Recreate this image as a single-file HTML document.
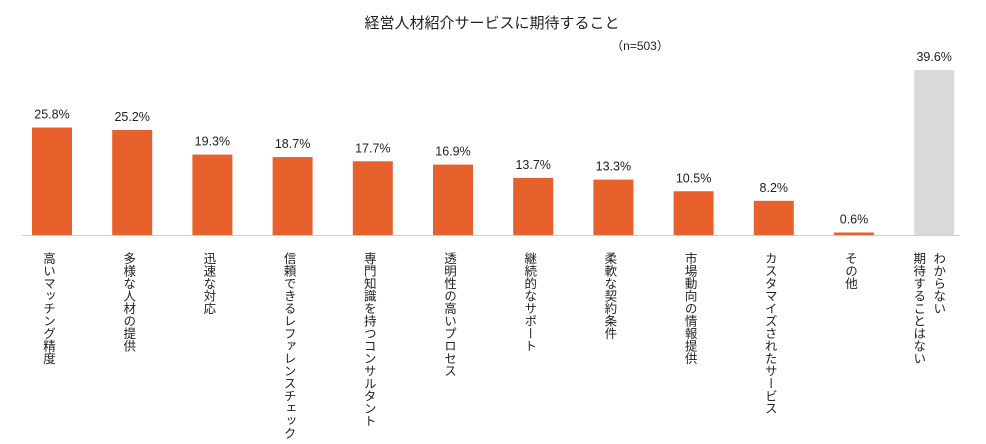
<!DOCTYPE html>
<html><head><meta charset="utf-8"><style>
body{margin:0;background:#fff;}
svg{display:block;font-family:"Liberation Sans","Noto Sans CJK JP",sans-serif;}
</style></head><body>
<svg id="chart" width="986" height="444" viewBox="0 0 986 444">
<text x="492" y="28" text-anchor="middle" font-size="15" fill="#222">経営人材紹介サービスに期待すること</text>
<text x="640" y="50" text-anchor="middle" font-size="12" fill="#222">（n=503）</text>
<line x1="22" y1="235.5" x2="960" y2="235.5" stroke="#d0d0d0" stroke-width="1"/>
<g id="bars"></g>
</svg>
<script>
const categories = ["高いマッチング精度","多様な人材の提供","迅速な対応","信頼できるレファレンスチェック","専門知識を持つコンサルタント","透明性の高いプロセス","継続的なサポート","柔軟な契約条件","市場動向の情報提供","カスタマイズされたサービス","その他","わからない\n期待することはない"];
const values = [25.8,25.2,19.3,18.7,17.7,16.9,13.7,13.3,10.5,8.2,0.6,39.6];
const valueLabels = ["25.8%","25.2%","19.3%","18.7%","17.7%","16.9%","13.7%","13.3%","10.5%","8.2%","0.6%","39.6%"];
const NS="http://www.w3.org/2000/svg";
const g=document.getElementById('bars');
const baseY=235, scale=165/39.6;
function xC(i){return 52+i*80.2;}
function yV(v){return baseY-v*scale;}
categories.forEach((c,i)=>{
  const x=xC(i), top=yV(values[i]);
  const r=document.createElementNS(NS,'rect');
  
  
  r.setAttribute('x',x-20);r.setAttribute('y',top);r.setAttribute('width',40);r.setAttribute('height',baseY-top);
  r.setAttribute('fill', i===categories.length-1?'#d9d9d9':'#e8612c');
  g.appendChild(r);
  const t=document.createElementNS(NS,'text');
  
  
  t.setAttribute('x',x);t.setAttribute('y',top-9);t.setAttribute('text-anchor','middle');t.setAttribute('font-size','12.5');t.setAttribute('fill','#222');
  t.textContent=valueLabels[i];g.appendChild(t);
  const lines=c.split('\n');
  lines.forEach((ln,j)=>{
    const lx = x-4 + (lines.length>1 ? (j===0?8:-12) : 0);
    const l=document.createElementNS(NS,'text');
    
    
    l.setAttribute('x',lx);l.setAttribute('y',252);
    l.setAttribute('style','writing-mode:vertical-rl;text-orientation:upright;');
    l.setAttribute('font-size','12.5');l.setAttribute('fill','#222');
    l.textContent=ln;g.appendChild(l);
  });
});
</script>
</body></html>
